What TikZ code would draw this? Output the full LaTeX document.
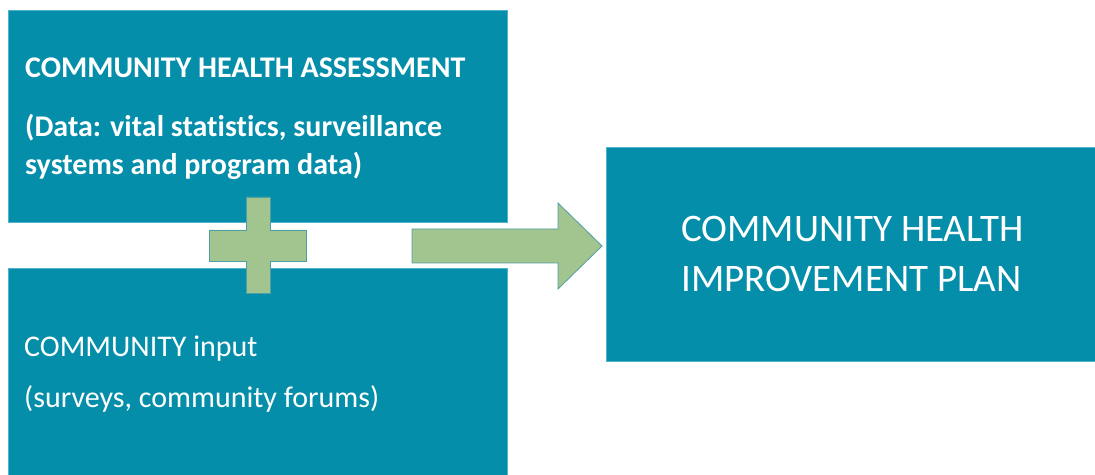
\documentclass[tikz,border=0pt]{standalone}
\usepackage{fontspec}
\setmainfont[Ligatures=NoCommon]{Carlito}
\definecolor{boxteal}{HTML}{048EAA}
\definecolor{tealedge}{HTML}{4FB3CC}
\definecolor{leaf}{HTML}{A2C48F}
\definecolor{leafedge}{HTML}{4E9FA3}
\tikzset{
  box/.style={fill=boxteal, draw=tealedge, line width=0.6pt, inner sep=0pt, anchor=north west},
  txt/.style={text=white, inner sep=0pt, anchor=base west, font=\fontsize{30}{30}\selectfont},
  greenshape/.style={fill=leaf, draw=leafedge, line width=0.8pt}
}
\begin{document}
\begin{tikzpicture}[x=1pt,y=1pt]
\useasboundingbox (0,0) rectangle (1095,474);
% boxes (y = 474 - pixel row)
\node[box, minimum width=499pt, minimum height=212pt] (cha) at (8,464) {};
\node[box, minimum width=499pt, minimum height=207pt] (ci) at (8,206) {};
\node[box, minimum width=490pt, minimum height=214pt] (chip) at (606,327) {};
% top box text
\node[txt, font=\fontsize{30}{30}\selectfont\bfseries] (t1) at (25,396) {COMMUNITY HEALTH ASSESSMENT};
\node[txt, font=\fontsize{30}{30}\selectfont\bfseries] (t2) at (25,337) {(Data: vital statistics, surveillance};
\node[txt, font=\fontsize{30}{30}\selectfont\bfseries] (t3) at (25,299) {systems and program data)};
% bottom box text
\node[txt] (b1) at (24,117) {COMMUNITY input};
\node[txt] (b2) at (24,66) {(surveys, community forums)};
% right box text
\node[txt, font=\fontsize{39}{50}\selectfont] (r1) at (681,232) {COMMUNITY HEALTH};
\node[txt, font=\fontsize{39}{50}\selectfont] (r2) at (681,182) {IMPROVEMENT PLAN};
% plus sign
\draw[greenshape] (246,277) -- (270,277) -- (270,244) -- (306,244) -- (306,213) -- (270,213)
  -- (270,181) -- (246,181) -- (246,213) -- (209,213) -- (209,244) -- (246,244) -- cycle;
% arrow
\draw[greenshape] (412,245) -- (558,245) -- (558,271) -- (602,228) -- (558,185) -- (558,211) -- (412,211) -- cycle;
\end{tikzpicture}
\end{document}
